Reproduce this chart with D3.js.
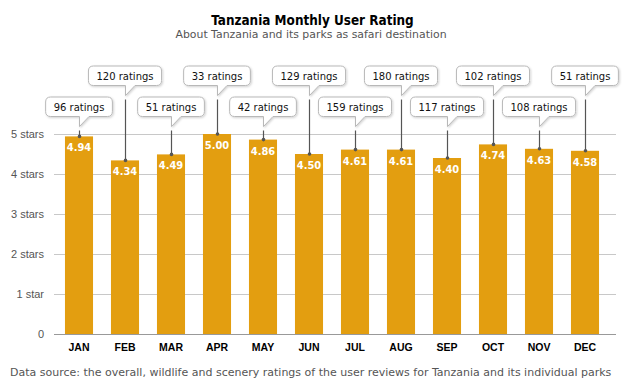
<!DOCTYPE html>
<html>
<head>
<meta charset="utf-8">
<script src="https://cdn.jsdelivr.net/npm/d3@7"></script>
<style>
  body { margin: 0; background: #fff; }
  svg { display: block; font-family: "DejaVu Sans", Tahoma, sans-serif; }
  .cond { font-stretch: condensed; }
</style>
</head>
<body>
<svg id="chart" width="626" height="392"></svg>
<script>
const months = ["JAN","FEB","MAR","APR","MAY","JUN","JUL","AUG","SEP","OCT","NOV","DEC"];
const ratingValues = [4.94, 4.34, 4.49, 5.00, 4.86, 4.50, 4.61, 4.61, 4.40, 4.74, 4.63, 4.58];
const ratingCounts = [96, 120, 51, 33, 42, 129, 159, 180, 117, 102, 108, 51];
const yTickValues = [0, 1, 2, 3, 4, 5];
const yTickLabels = ["0", "1 star", "2 stars", "3 stars", "4 stars", "5 stars"];

const svg = d3.select("#chart");
const W = 626;
const gridLeft = 54, gridRight = 616;

const x = d3.scaleBand().domain(months).range([56, 608]).paddingInner(0.39).paddingOuter(0.195);
const y = d3.scaleLinear().domain([0, 5]).range([334, 134]);

// title
svg.append("text").attr("class", "cond").attr("x", 312.5).attr("y", 24.5).attr("text-anchor", "middle")
  .attr("font-weight", "bold").attr("font-size", 13.4).attr("fill", "#000")
  .text("Tanzania Monthly User Rating");
svg.append("text").attr("x", 311).attr("y", 37.5).attr("text-anchor", "middle")
  .attr("font-size", 10.9).attr("fill", "#555")
  .text("About Tanzania and its parks as safari destination");

// grid
svg.append("g").selectAll("line").data(yTickValues.filter(d => d > 0)).join("line")
  .attr("x1", gridLeft).attr("x2", gridRight)
  .attr("y1", d => y(d) + 0.5).attr("y2", d => y(d) + 0.5)
  .attr("stroke", "#c8c8c8").attr("stroke-width", 1);

// y axis labels
const yAxis = d3.axisLeft(y).tickValues(yTickValues).tickFormat((d, i) => yTickLabels[i]).tickSize(0).tickPadding(0);
const gy = svg.append("g").attr("class", "cond").attr("transform", `translate(44,0)`).call(yAxis);
gy.select(".domain").remove();
gy.selectAll("text").attr("font-size", 11).attr("fill", "#555").attr("font-family", null).attr("dy", "0.35em");

// bars
svg.append("g").selectAll("rect").data(months).join("rect")
  .attr("x", d => x(d)).attr("width", x.bandwidth())
  .attr("y", (d, i) => y(ratingValues[i])).attr("height", (d, i) => y(0) - y(ratingValues[i]))
  .attr("fill", "#E39E10");

// baseline
svg.append("line").attr("x1", gridLeft).attr("x2", gridRight)
  .attr("y1", y(0) + 0.5).attr("y2", y(0) + 0.5).attr("stroke", "#999").attr("stroke-width", 1);

// x axis
const xAxis = d3.axisBottom(x).tickSize(0).tickPadding(0);
const gx = svg.append("g").attr("class", "cond").attr("transform", `translate(0,${y(0)})`).call(xAxis);
gx.select(".domain").remove();
gx.selectAll("text").attr("font-size", 10.5).attr("font-weight", "bold").attr("fill", "#000")
  .attr("font-family", null).attr("dy", null).attr("y", 17);

// value labels
svg.append("g").attr("class", "cond").selectAll("text").data(months).join("text")
  .attr("x", d => x(d) + x.bandwidth()/2).attr("y", (d, i) => y(ratingValues[i]) + 15)
  .attr("text-anchor", "middle").attr("font-size", 11).attr("font-weight", "bold").attr("fill", "#fff")
  .text((d, i) => ratingValues[i].toFixed(2));

// shadow filter
const defs = svg.append("defs");
const f = defs.append("filter").attr("id", "sh").attr("x", "-20%").attr("y", "-20%").attr("width", "140%").attr("height", "160%");
f.append("feDropShadow").attr("dx", 1).attr("dy", 1).attr("stdDeviation", 1).attr("flood-color", "#000").attr("flood-opacity", 0.18);

// callouts
const callouts = svg.append("g");
months.forEach((m, i) => {
  const cx = Math.round(x(m) + x.bandwidth()/2);
  const high = i % 2 === 1;
  const boxTop = high ? 66 : 97;
  const boxH = 19.5;
  const boxBot = boxTop + boxH;
  const tipY = boxBot + 10;
  const label = ratingCounts[i] + " ratings";
  const g = callouts.append("g");
  const t = g.append("text").attr("x", cx).attr("y", boxTop + 13.5).attr("text-anchor", "middle")
    .attr("font-size", 10).attr("fill", "#111").text(label);
  const tw = t.node().getComputedTextLength();
  const bw = tw + 16;
  const bx = cx - bw/2, r = 5;
  const tl = cx + 0.5, tr = cx + 10;
  const path = `M${bx + r},${boxTop} H${bx + bw - r} Q${bx + bw},${boxTop} ${bx + bw},${boxTop + r}
    V${boxBot - r} Q${bx + bw},${boxBot} ${bx + bw - r},${boxBot} H${tr} L${tl},${tipY} V${boxBot}
    H${bx + r} Q${bx},${boxBot} ${bx},${boxBot - r} V${boxTop + r} Q${bx},${boxTop} ${bx + r},${boxTop} Z`;
  g.insert("path", "text").attr("d", path).attr("fill", "#fff").attr("stroke", "#b8b8b8")
    .attr("stroke-width", 1).attr("filter", "url(#sh)");
  const barTop = y(ratingValues[i]);
  g.append("line").attr("x1", cx + 0.5).attr("x2", cx + 0.5).attr("y1", tipY + 4).attr("y2", barTop)
    .attr("stroke", "#555").attr("stroke-width", 1.2);
  g.append("circle").attr("cx", cx + 0.5).attr("cy", barTop).attr("r", 1.8).attr("fill", "#555");
});

// footer
svg.append("text").attr("x", 10).attr("y", 376).attr("font-size", 11).attr("fill", "#555")
  .text("Data source: the overall, wildlife and scenery ratings of the user reviews for Tanzania and its individual parks");
</script>
</body>
</html>
